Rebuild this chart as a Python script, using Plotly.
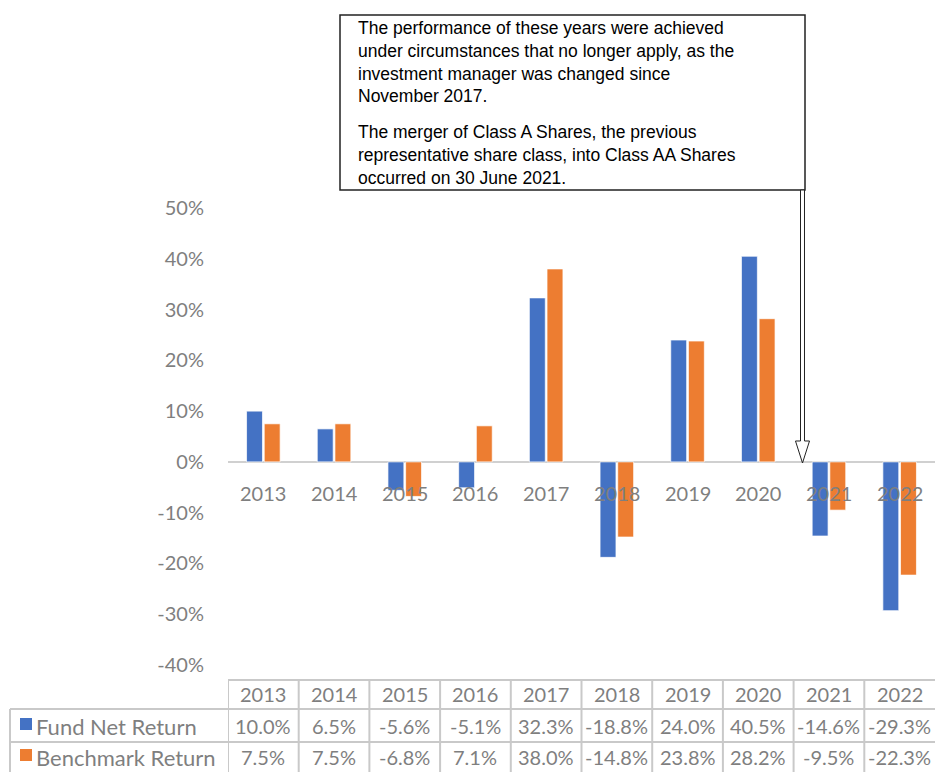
import plotly.graph_objects as go

years = ["2013", "2014", "2015", "2016", "2017", "2018", "2019", "2020", "2021", "2022"]
fund = [10.0, 6.5, -5.6, -5.1, 32.3, -18.8, 24.0, 40.5, -14.6, -29.3]
bench = [7.5, 7.5, -6.8, 7.1, 38.0, -14.8, 23.8, 28.2, -9.5, -22.3]
series_names = ["Fund Net Return", "Benchmark Return"]
y_ticks = [-40, -30, -20, -10, 0, 10, 20, 30, 40, 50]

note_par1 = ["The performance of these years were achieved",
             "under circumstances that no longer apply, as the",
             "investment manager was changed since",
             "November 2017."]
note_par2 = ["The merger of Class A Shares, the previous",
             "representative share class, into Class AA Shares",
             "occurred on 30 June 2021."]

# the page body has an 8px margin, so the figure starts at (8, 8)
OFF = 8
W, H = 927, 764
BLUE, ORANGE = "#4472C4", "#ED7D31"
GREY_TXT = "#7f7f7f"
GRID = "#c9c9c9"
FONT = "Lato, Carlito, sans-serif"


def px(x):
    return (x - OFF) / W


def py(y):
    return 1 - (y - OFF) / H


fig = go.Figure()
fig.add_trace(go.Bar(x=years, y=fund, name=series_names[0], marker_color=BLUE,
                     marker_line=dict(color="rgba(255,255,255,0.7)", width=1)))
fig.add_trace(go.Bar(x=years, y=bench, name=series_names[1], marker_color=ORANGE,
                     marker_line=dict(color="rgba(255,255,255,0.7)", width=1)))

annotations = []
shapes = []
cell_font = dict(family=FONT, size=20, color=GREY_TXT)

# year labels under the zero line
for i, yr in enumerate(years):
    annotations.append(dict(x=i, y=0, xref="x", yref="y", text=yr, showarrow=False,
                            yanchor="top", yshift=-17, font=cell_font))

# data table below the chart
row_y = [694, 726, 757]
for i, (yr, f, b) in enumerate(zip(years, fund, bench)):
    for text, yc in zip([yr, f"{f:.1f}%", f"{b:.1f}%"], row_y):
        annotations.append(dict(x=i, y=py(yc), xref="x", yref="paper", text=text,
                                showarrow=False, yanchor="middle", xanchor="center",
                                font=cell_font))

for name, color, yc in zip(series_names, [BLUE, ORANGE], row_y[1:]):
    annotations.append(dict(x=px(34), y=py(yc), xref="paper", yref="paper", text=name,
                            showarrow=False, xanchor="left", yanchor="middle",
                            font=dict(family=FONT, size=22, color=GREY_TXT)))
    shapes.append(dict(type="rect", xref="paper", yref="paper",
                       x0=px(20), x1=px(32), y0=py(yc + 4), y1=py(yc - 8),
                       fillcolor=color, line=dict(width=0)))

# table grid
line = dict(color=GRID, width=2)
shapes.append(dict(type="line", xref="paper", yref="paper", x0=px(228), x1=1, y0=py(680), y1=py(680), line=line))
for yl in (709, 742):
    shapes.append(dict(type="line", xref="paper", yref="paper", x0=px(10), x1=1, y0=py(yl), y1=py(yl), line=line))
shapes.append(dict(type="line", xref="paper", yref="paper", x0=px(10), x1=px(10), y0=py(709), y1=0, line=line))
for k in range(len(years)):
    shapes.append(dict(type="line", xref="x", yref="paper", x0=k - 0.5, x1=k - 0.5,
                       y0=py(680), y1=0, line=line))

# note box
shapes.append(dict(type="rect", xref="paper", yref="paper", x0=px(340), x1=px(805),
                   y0=py(190), y1=py(15), fillcolor="white",
                   line=dict(color="#222222", width=1.5)))
note_font = dict(family="Liberation Sans, Arial, sans-serif", size=17.5, color="black")
annotations.append(dict(x=px(356), y=py(16), xref="paper", yref="paper", text="<br>".join(note_par1),
                        showarrow=False, xanchor="left", yanchor="top", align="left", font=note_font))
annotations.append(dict(x=px(356), y=py(120), xref="paper", yref="paper", text="<br>".join(note_par2),
                        showarrow=False, xanchor="left", yanchor="top", align="left", font=note_font))

# hollow block arrow from the box down to the zero line
pts = [(800.5, 190), (800.5, 441), (795.5, 441), (802.5, 463), (809.5, 441), (804.5, 441), (804.5, 190)]
path = "M " + " L ".join(f"{px(a):.5f},{py(b):.5f}" for a, b in pts) + " Z"
shapes.append(dict(type="path", xref="paper", yref="paper", path=path, fillcolor="white",
                   line=dict(color="#222222", width=1)))

fig.update_layout(
    width=W, height=H,
    margin=dict(l=0, r=0, t=0, b=0, autoexpand=False),
    plot_bgcolor="white", paper_bgcolor="white",
    showlegend=False,
    barmode="group", bargap=0.5, bargroupgap=0.1,
    annotations=annotations, shapes=shapes,
    xaxis=dict(type="category", domain=[px(228), 1], range=[-0.5, 9.5], showticklabels=False,
               showgrid=False, zeroline=False, showline=False, ticks=""),
    yaxis=dict(domain=[py(665), py(208)], range=[-40, 50], tickvals=y_ticks,
               ticktext=[f"{v}%" for v in y_ticks],
               showgrid=False, zeroline=True, zerolinecolor="#d0d0d0",
               zerolinewidth=2, showline=False, ticks="outside", ticklen=19,
               tickcolor="rgba(0,0,0,0)",
               tickfont=dict(family=FONT, size=20, color=GREY_TXT)),
)

fig.write_html("out.html")
